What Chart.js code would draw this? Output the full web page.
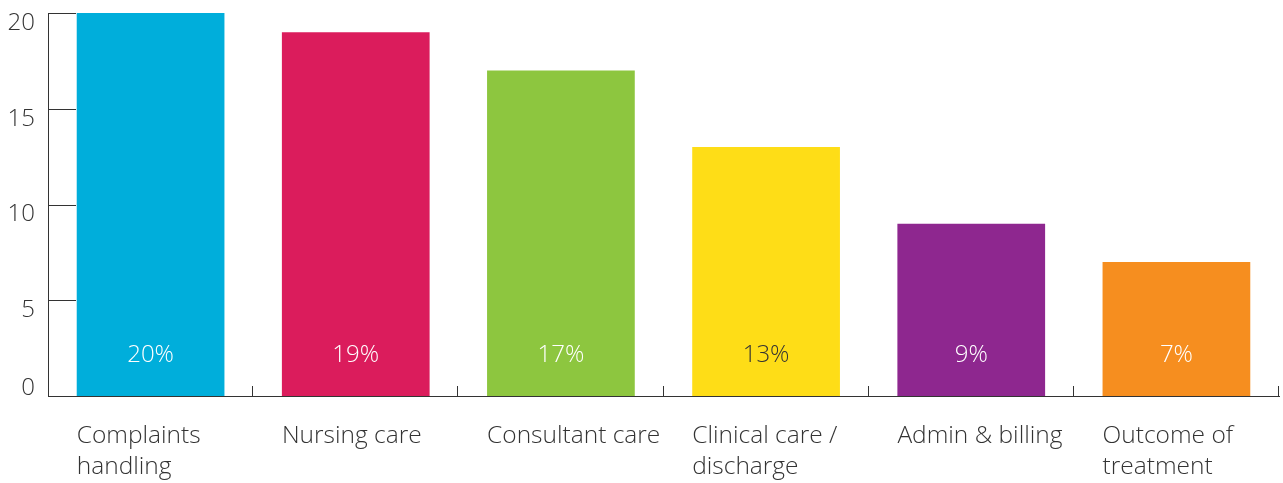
<!DOCTYPE html>
<html>
<head>
<meta charset="utf-8">
<script src="https://cdn.jsdelivr.net/npm/chart.js@4"></script>
<style>
  html, body { margin: 0; padding: 0; background: #fff; }
  #wrap { width: 1283px; height: 483px; position: relative; }
</style>
</head>
<body>
<div id="wrap"><canvas id="chart"></canvas></div>
<script>
// data
const categories = [['Complaints', 'handling'], ['Nursing care'], ['Consultant care'], ['Clinical care /', 'discharge'], ['Admin & billing'], ['Outcome of', 'treatment']];
const values = [20, 19, 17, 13, 9, 7];
const valueLabels = ['20%', '19%', '17%', '13%', '9%', '7%'];
const yTicks = [0, 5, 10, 15, 20];
const barColors = ['#00aedb', '#db1c5c', '#8dc63f', '#fedd17', '#8e278f', '#f68e1f'];
const labelColors = ['#ffffff', '#ffffff', '#ffffff', '#333333', '#ffffff', '#ffffff'];

const FONT = '"Open Sans", "Noto Sans", sans-serif';
const INK = '#333333';

// axes ticks, tick labels, value labels and category labels
const decorations = {
	id: 'decorations',
	afterDatasetsDraw(chart) {
		const ctx = chart.ctx;
		const x = chart.scales.x;
		const y = chart.scales.y;
		const area = chart.chartArea;
		const bars = chart.getDatasetMeta(0).data;

		ctx.save();
		ctx.strokeStyle = INK;
		ctx.lineWidth = 1;

		// y ticks point inward
		yTicks.forEach(v => {
			if (v === 0) return;
			const py = Math.round(y.getPixelForValue(v)) + 0.5;
			ctx.beginPath();
			ctx.moveTo(area.left, py);
			ctx.lineTo(area.left + 28, py);
			ctx.stroke();
		});

		// x ticks between categories, pointing up
		for (let i = 0; i < values.length; i++) {
			let px;
			if (i < values.length - 1) {
				px = (x.getPixelForValue(i) + x.getPixelForValue(i + 1)) / 2;
			} else {
				px = area.right;
			}
			px = Math.round(px) - 0.5;
			ctx.beginPath();
			ctx.moveTo(px, area.bottom);
			ctx.lineTo(px, area.bottom - 10);
			ctx.stroke();
		}

		// y tick labels
		ctx.font = '300 24px ' + FONT;
		ctx.fillStyle = INK;
		ctx.textAlign = 'right';
		ctx.textBaseline = 'middle';
		yTicks.forEach(v => {
			const py = y.getPixelForValue(v);
			const off = v === 0 ? -8 : 10;
			ctx.fillText(String(v), 35, py + off);
		});

		// value labels inside bars
		ctx.textAlign = 'center';
		bars.forEach((bar, i) => {
			ctx.fillStyle = labelColors[i];
			ctx.fillText(valueLabels[i], bar.x, area.bottom - 41);
		});

		// category labels, left aligned with bars
		ctx.font = '300 24.5px ' + FONT;
		ctx.textAlign = 'left';
		ctx.fillStyle = INK;
		bars.forEach((bar, i) => {
			const left = bar.x - bar.width / 2;
			categories[i].forEach((line, j) => {
				ctx.fillText(line, left, area.bottom + 40 + j * 31);
			});
		});

		ctx.restore();
	}
};

new Chart(document.getElementById('chart'), {
	type: 'bar',
	data: {
		labels: categories.map(c => c.join(' ')),
		datasets: [{
			data: values,
			backgroundColor: barColors,
			borderWidth: 0,
			barPercentage: 0.72,
			categoryPercentage: 1,
		}],
	},
	options: {
		responsive: true,
		maintainAspectRatio: false,
		animation: false,
		layout: {
			padding: { left: 40, top: 13, right: 4, bottom: 79 },
		},
		plugins: {
			legend: { display: false },
			tooltip: { enabled: false },
		},
		scales: {
			x: {
				offset: true,
				grid: { display: false },
				ticks: { display: false },
				border: { display: true, color: INK, width: 1 },
			},
			y: {
				min: 0,
				max: 20,
				grid: { display: false },
				ticks: { display: false, stepSize: 5 },
				border: { display: true, color: INK, width: 1 },
			},
		},
	},
	plugins: [decorations],
});
</script>
</body>
</html>
